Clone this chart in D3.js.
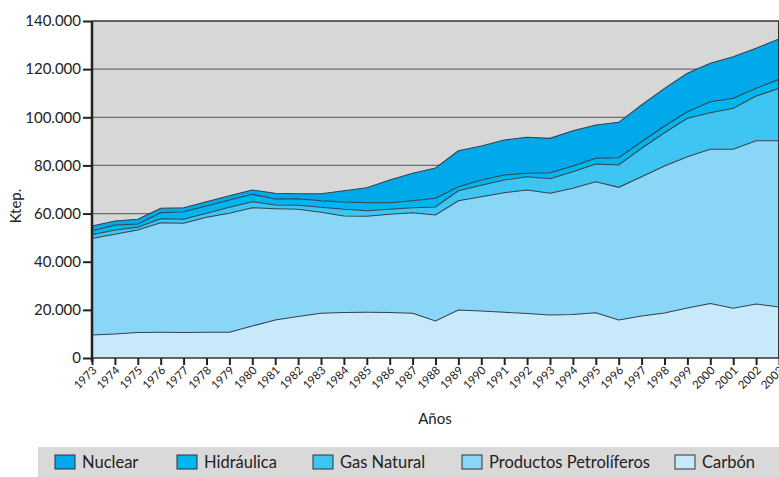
<!DOCTYPE html>
<html>
<head>
<meta charset="utf-8">
<script src="https://cdn.jsdelivr.net/npm/d3@7"></script>
<style>
  html, body { margin: 0; padding: 0; background: #ffffff; }
  svg { display: block; }
  text { font-family: Lato, "Liberation Sans", sans-serif; fill: #222; }
</style>
</head>
<body>
<svg id="chart" width="779" height="477"></svg>
<script>
// ---- Data (ktep) ----
const years = [1973,1974,1975,1976,1977,1978,1979,1980,1981,1982,1983,1984,1985,1986,1987,1988,1989,1990,1991,1992,1993,1994,1995,1996,1997,1998,1999,2000,2001,2002,2003];
const carbon = [9550,9970,10590,10670,10590,10670,10670,13290,15790,17240,18570,18900,18980,18900,18570,15370,19940,19520,18980,18490,17860,18070,18820,15790,17450,18690,20770,22640,20650,22430,21190];
const petroleo = [40090,41410,42580,45530,45360,47780,49440,49140,46230,44530,41950,40090,39880,40790,41790,44030,45400,47480,49690,51300,50560,52430,54420,55120,57860,61070,62850,64060,66050,67840,69080];
const gas = [1580,1790,1120,1670,1670,1660,2490,2500,1540,1660,2080,2780,2330,2080,2070,3330,4160,4740,5270,5520,6060,6890,7350,9260,11800,13830,15950,15200,17030,18560,21760];
const hidraulica = [1660,2080,1370,2490,3150,3030,3030,3070,2490,2740,2740,3030,3320,2740,2910,3610,1660,2200,2080,1410,2490,2370,2370,3040,2740,2780,2740,4570,4150,3200,3740];
const nuclear = [1950,1660,1960,1830,1660,1790,1790,1790,2370,2080,2910,4700,6230,9430,11380,12590,14950,14120,14540,14960,14290,14660,13830,14700,15250,15660,15960,15950,17280,16680,16740];
const yTicks = [0,20000,40000,60000,80000,100000,120000,140000];
const seriesNames = ["Carbón","Productos Petrolíferos","Gas Natural","Hidráulica","Nuclear"];
const legendOrder = ["Nuclear","Hidráulica","Gas Natural","Productos Petrolíferos","Carbón"];

// ---- Styles ----
const colors = {
  "Nuclear": "#00a9e9",
  "Hidráulica": "#00b6ee",
  "Gas Natural": "#3ec5f2",
  "Productos Petrolíferos": "#89d6f6",
  "Carbón": "#c7e9f9"
};

const svg = d3.select("#chart");
const pLeft = 92, pRight = 779, pTop = 21, pBottom = 358;

const rows = years.map((yr, i) => ({
  year: yr,
  "Carbón": carbon[i],
  "Productos Petrolíferos": petroleo[i],
  "Gas Natural": gas[i],
  "Hidráulica": hidraulica[i],
  "Nuclear": nuclear[i]
}));

const x = d3.scaleLinear().domain([years[0], years[years.length - 1]]).range([pLeft, pRight]);
const y = d3.scaleLinear().domain([0, 140000]).range([pBottom, pTop]);

// plot background
svg.append("rect").attr("x", pLeft).attr("y", pTop)
  .attr("width", pRight - pLeft).attr("height", pBottom - pTop)
  .attr("fill", "#d7d7d7");

// gridlines
svg.append("g").selectAll("line").data(yTicks.filter(t => t > 0)).join("line")
  .attr("x1", pLeft).attr("x2", pRight)
  .attr("y1", d => y(d)).attr("y2", d => y(d))
  .attr("stroke", d => d === 140000 ? "#333" : "#6e6e6e")
  .attr("stroke-width", d => d === 140000 ? 1.5 : 1.2);

// stacked areas
const stack = d3.stack().keys(seriesNames);
const layers = stack(rows);
const area = d3.area()
  .x(d => x(d.data.year))
  .y0(d => y(d[0]))
  .y1(d => y(d[1]));
const line = d3.line()
  .x(d => x(d.data.year))
  .y(d => y(d[1]));

svg.append("g").selectAll("path").data(layers).join("path")
  .attr("d", area)
  .attr("fill", d => colors[d.key]);

svg.append("g").selectAll("path").data(layers).join("path")
  .attr("d", line)
  .attr("fill", "none")
  .attr("stroke", "#34434e")
  .attr("stroke-width", 1.1);

// right border
svg.append("line").attr("x1", pRight - 0.5).attr("x2", pRight - 0.5)
  .attr("y1", pTop).attr("y2", pBottom).attr("stroke", "#333").attr("stroke-width", 1);

// Y axis
const yAxis = d3.axisLeft(y).tickValues(yTicks)
  .tickFormat(d => d === 0 ? "0" : d3.format(",")(d).replace(/,/g, "."))
  .tickSize(9).tickPadding(2);
const gy = svg.append("g").attr("transform", `translate(${pLeft},0)`).call(yAxis);
gy.select(".domain").attr("stroke", "#222").attr("stroke-width", 2.5)
  .attr("d", `M0,${pTop}V${pBottom + 4}`);
gy.selectAll(".tick line").attr("stroke", "#222").attr("stroke-width", 2);
gy.selectAll(".tick text").attr("font-size", 15).attr("fill", "#222")
  .attr("font-family", "Lato, 'Liberation Sans', sans-serif");

// X axis
const xAxis = d3.axisBottom(x).tickValues(years).tickFormat(d => String(d)).tickSize(7);
const gx = svg.append("g").attr("transform", `translate(0,${pBottom})`).call(xAxis);
gx.select(".domain").attr("stroke", "#333").attr("stroke-width", 1.5)
  .attr("d", `M${pLeft},0H${pRight}`);
gx.selectAll(".tick line").attr("stroke", "#222").attr("stroke-width", 2);
gx.selectAll(".tick text")
  .attr("font-size", 11.5).attr("fill", "#222")
  .attr("font-family", "Lato, 'Liberation Sans', sans-serif")
  .attr("text-anchor", "end")
  .attr("dy", null).attr("y", 0)
  .attr("transform", "translate(5,13) rotate(-45)");

// Axis titles
svg.append("text").attr("x", 435).attr("y", 424).attr("text-anchor", "middle")
  .attr("font-size", 15).text("Años");
svg.append("text").attr("transform", "translate(21,206) rotate(-90)")
  .attr("text-anchor", "middle").attr("font-size", 15).text("Ktep.");

// Legend
svg.append("rect").attr("x", 38).attr("y", 447).attr("width", 741).attr("height", 30)
  .attr("fill", "#d9d9d9");
const legendX = [55, 177, 313, 462, 675];
const lg = svg.append("g").selectAll("g").data(legendOrder).join("g")
  .attr("transform", (d, i) => `translate(${legendX[i]},455)`);
lg.append("rect").attr("width", 20).attr("height", 14)
  .attr("fill", d => colors[d]).attr("stroke", "#333").attr("stroke-width", 1);
lg.append("text").attr("x", 27).attr("y", 13).attr("font-size", 16.5).text(d => d);
</script>
</body>
</html>
